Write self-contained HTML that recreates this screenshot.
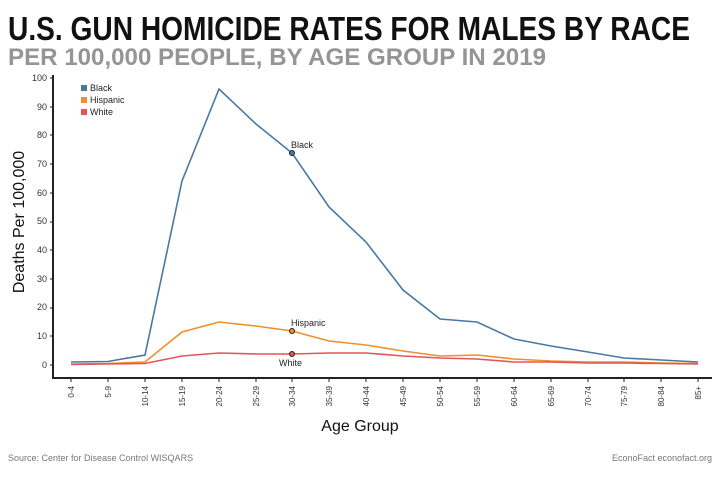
<!DOCTYPE html>
<html><head><meta charset="utf-8"><style>
html,body{margin:0;padding:0;background:#fff;}
svg{display:block;font-family:"Liberation Sans",Arial,sans-serif;}
</style></head><body>
<svg width="720" height="480" viewBox="0 0 720 480" xmlns="http://www.w3.org/2000/svg">
<rect width="720" height="480" fill="#fff"/>
<text x="8" y="40" font-size="33" font-weight="bold" fill="#111" textLength="682" lengthAdjust="spacingAndGlyphs">U.S. GUN HOMICIDE RATES FOR MALES BY RACE</text>
<text x="8" y="65" font-size="24" font-weight="bold" fill="#959595" textLength="538" lengthAdjust="spacingAndGlyphs">PER 100,000 PEOPLE, BY AGE GROUP IN 2019</text>

<line x1="53" y1="75" x2="53" y2="379" stroke="#222" stroke-width="2"/>
<line x1="52" y1="378" x2="712" y2="378" stroke="#222" stroke-width="2"/>
<g font-size="9" fill="#333" text-anchor="end">
<text x="47" y="368">0</text><text x="47" y="339">10</text><text x="47" y="310">20</text>
<text x="47" y="282">30</text><text x="47" y="253">40</text><text x="47" y="224">50</text>
<text x="47" y="196">60</text><text x="47" y="167">70</text><text x="47" y="138">80</text>
<text x="47" y="110">90</text><text x="47" y="81">100</text>
</g>
<g stroke="#222" stroke-width="1">
<line x1="50" y1="365" x2="53" y2="365"/><line x1="50" y1="336" x2="53" y2="336"/><line x1="50" y1="308" x2="53" y2="308"/><line x1="50" y1="279" x2="53" y2="279"/><line x1="50" y1="250" x2="53" y2="250"/><line x1="50" y1="222" x2="53" y2="222"/><line x1="50" y1="193" x2="53" y2="193"/><line x1="50" y1="164" x2="53" y2="164"/><line x1="50" y1="135" x2="53" y2="135"/><line x1="50" y1="107" x2="53" y2="107"/><line x1="50" y1="78" x2="53" y2="78"/>
</g>
<text transform="translate(24,222) rotate(-90)" font-size="16" fill="#111" text-anchor="middle">Deaths Per 100,000</text>

<g stroke="#222" stroke-width="1">
<line x1="71" y1="378" x2="71" y2="382"/><line x1="108" y1="378" x2="108" y2="382"/><line x1="145" y1="378" x2="145" y2="382"/><line x1="182" y1="378" x2="182" y2="382"/><line x1="219" y1="378" x2="219" y2="382"/><line x1="256" y1="378" x2="256" y2="382"/><line x1="292" y1="378" x2="292" y2="382"/><line x1="329" y1="378" x2="329" y2="382"/><line x1="366" y1="378" x2="366" y2="382"/><line x1="403" y1="378" x2="403" y2="382"/><line x1="440" y1="378" x2="440" y2="382"/><line x1="477" y1="378" x2="477" y2="382"/><line x1="514" y1="378" x2="514" y2="382"/><line x1="551" y1="378" x2="551" y2="382"/><line x1="588" y1="378" x2="588" y2="382"/><line x1="624" y1="378" x2="624" y2="382"/><line x1="661" y1="378" x2="661" y2="382"/><line x1="698" y1="378" x2="698" y2="382"/>
</g>
<g font-size="8" fill="#333" text-anchor="end">
<text transform="translate(74,386) rotate(-90)">0-4</text>
<text transform="translate(111,386) rotate(-90)">5-9</text>
<text transform="translate(148,386) rotate(-90)">10-14</text>
<text transform="translate(185,386) rotate(-90)">15-19</text>
<text transform="translate(222,386) rotate(-90)">20-24</text>
<text transform="translate(259,386) rotate(-90)">25-29</text>
<text transform="translate(295,386) rotate(-90)">30-34</text>
<text transform="translate(332,386) rotate(-90)">35-39</text>
<text transform="translate(369,386) rotate(-90)">40-44</text>
<text transform="translate(406,386) rotate(-90)">45-49</text>
<text transform="translate(443,386) rotate(-90)">50-54</text>
<text transform="translate(480,386) rotate(-90)">55-59</text>
<text transform="translate(517,386) rotate(-90)">60-64</text>
<text transform="translate(554,386) rotate(-90)">65-69</text>
<text transform="translate(591,386) rotate(-90)">70-74</text>
<text transform="translate(627,386) rotate(-90)">75-79</text>
<text transform="translate(664,386) rotate(-90)">80-84</text>
<text transform="translate(701,386) rotate(-90)">85+</text>
</g>
<text x="360" y="431" font-size="16" fill="#111" text-anchor="middle">Age Group</text>

<polyline fill="none" stroke="#4a78a4" stroke-width="1.6" points="71,362 108,361.5 145,355 182,181 219,89 256,124 292,153 329,207 366,242 403,290 440,319 477,322 514,339 551,346 588,352 624,358 661,360 698,362"/>
<polyline fill="none" stroke="#f28e2b" stroke-width="1.6" points="71,364 108,363.5 145,362 182,332 219,322 256,326 292,331 329,341 366,345 403,351 440,356 477,355 514,359 551,361 588,362 624,362 661,363 698,363.5"/>
<polyline fill="none" stroke="#e15759" stroke-width="1.6" points="71,364.5 108,364 145,363.5 182,356 219,353 256,354 292,354 329,353 366,353 403,356 440,358 477,359 514,362 551,362 588,363 624,363 661,363.5 698,364"/>
<circle cx="292" cy="153" r="2.5" fill="#4a78a4" stroke="#222" stroke-width="1"/>
<circle cx="292" cy="331" r="2.5" fill="#f28e2b" stroke="#222" stroke-width="1"/>
<circle cx="292" cy="354" r="2.5" fill="#e15759" stroke="#222" stroke-width="1"/>
<g font-size="9" fill="#222">
<text x="291" y="148">Black</text>
<text x="291" y="326">Hispanic</text>
<text x="279" y="366">White</text>
</g>

<rect x="81" y="85" width="6" height="6" fill="#4a78a4"/>
<rect x="81" y="97" width="6" height="6" fill="#f28e2b"/>
<rect x="81" y="109" width="6" height="6" fill="#e15759"/>
<g font-size="9" fill="#222">
<text x="90" y="91">Black</text><text x="90" y="103">Hispanic</text><text x="90" y="115">White</text>
</g>

<text x="8" y="461" font-size="9" fill="#777">Source: Center for Disease Control WISQARS</text>
<text x="712" y="461" font-size="9" fill="#777" text-anchor="end">EconoFact    econofact.org</text>
</svg>
</body></html>
